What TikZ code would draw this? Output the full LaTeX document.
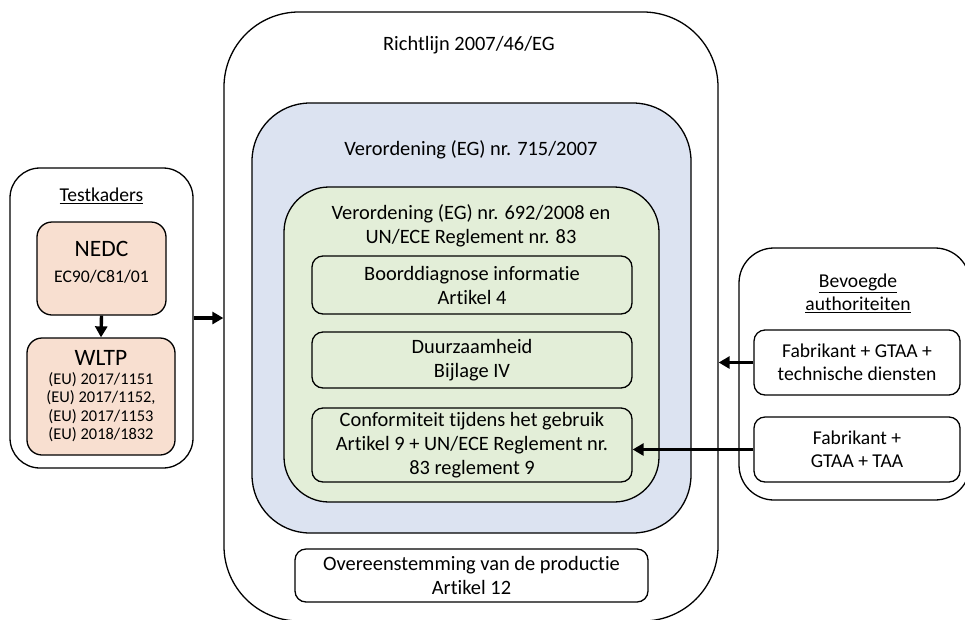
\documentclass[tikz,border=0pt]{standalone}
\usepackage{fontspec}
\setmainfont{Carlito}[Ligatures=CommonOff]
\usetikzlibrary{arrows.meta}
\definecolor{peach}{HTML}{F8DFD0}
\definecolor{paleblue}{HTML}{DCE3F1}
\definecolor{palegreen}{HTML}{E3EED8}
\newcommand{\bigsz}{\fontsize{23.5}{26}\selectfont}
\newcommand{\midsz}{\fontsize{17.7}{26}\selectfont}
\newcommand{\smallsz}{\fontsize{16.4}{18.5}\selectfont}
\tikzset{
  frame/.style={draw=black, line width=1.3pt, rectangle},
  txt/.style={font=\fontsize{20.4}{24}\selectfont, align=center, inner sep=0pt},
  sidetxt/.style={font=\fontsize{19.6}{23}\selectfont, align=center, inner sep=0pt},
  innerbox/.style={frame, rounded corners=11pt, txt},
  sidebox/.style={frame, rounded corners=11pt, sidetxt},
  tcell/.style={frame, rounded corners=15pt, fill=peach, align=center, inner sep=0pt},
  arr/.style={line width=3.4pt, -{Triangle[length=11pt,width=12pt]}},
}
\begin{document}
\begin{tikzpicture}[x=1pt, y=-1pt]
\useasboundingbox (0,0) rectangle (965,619);
\fill[white] (0,0) rectangle (965,619);

% main directive frame
\node[frame, rounded corners=75pt, minimum width=494pt, minimum height=609pt] (outer) at (471,316.5) {};
\node[txt] (richt) at (469,45) {Richtlijn 2007/46/EG};

% regulation 715/2007
\node[frame, rounded corners=58pt, fill=paleblue, minimum width=439pt, minimum height=430pt] (reg715) at (471.5,318) {};
\node[txt] (reg715t) at (471,150) {Verordening (EG) nr. 715/2007};

% regulation 692/2008 + UN/ECE R83
\node[frame, rounded corners=45pt, fill=palegreen, minimum width=375pt, minimum height=315pt] (reg692) at (471.5,344.5) {};
\node[txt] (reg692t) at (471,226) {Verordening (EG) nr. 692/2008 en\\UN/ECE Reglement nr. 83};

\node[innerbox, minimum width=320pt, minimum height=58pt] (obd) at (472,285) {Boorddiagnose informatie\\Artikel 4};
\node[innerbox, minimum width=320pt, minimum height=56pt] (dur) at (472,360) {Duurzaamheid\\Bijlage IV};
\node[innerbox, minimum width=320pt, minimum height=74pt] (conf) at (472,445) {Conformiteit tijdens het gebruik\\Artikel 9 + UN/ECE Reglement nr.\\83 reglement 9};

\node[innerbox, fill=white, minimum width=353pt, minimum height=53pt] (cop) at (471.5,575.5) {Overeenstemming van de productie\\Artikel 12};

% test frameworks
\node[frame, rounded corners=30pt, fill=white, minimum width=183pt, minimum height=300pt] (tests) at (101.5,318) {};
\node[sidetxt] (testst) at (101.5,196) {\underline{Testkaders}};
\node[tcell, font=\midsz, text depth=13pt, minimum width=129pt, minimum height=93pt] (nedc) at (101.5,268.5)
  {\bigsz NEDC\\EC90/C81/01};
\node[tcell, font=\smallsz, minimum width=148pt, minimum height=117pt] (wltp) at (101,396.5)
  {\bigsz WLTP\\(EU) 2017/1151\\(EU) 2017/1152,\\(EU) 2017/1153\\(EU) 2018/1832};

% competent authorities
\node[frame, rounded corners=35pt, fill=white, minimum width=231pt, minimum height=252pt] (auth) at (854.5,374) {};
\node[sidetxt] (autht) at (858,293) {\underline{Bevoegde}\\\underline{authoriteiten}};
\node[sidebox, fill=white, minimum width=206pt, minimum height=65pt] (fab1) at (857,362.5) {Fabrikant + GTAA +\\technische diensten};
\node[sidebox, fill=white, minimum width=206pt, minimum height=65pt] (fab2) at (857,449.5) {Fabrikant +\\GTAA + TAA};

% connectors
\draw[arr] (nedc.south) -- (wltp.north);
\draw[arr] (tests.east) -- (tests.east -| outer.west);
\draw[arr] (fab1.west) -- (fab1.west -| outer.east);
\draw[arr] (fab2.west) -- (fab2.west -| conf.east);
\end{tikzpicture}
\end{document}
